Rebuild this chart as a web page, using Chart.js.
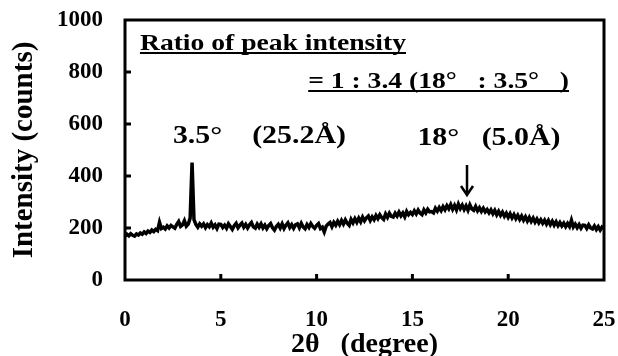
<!DOCTYPE html>
<html>
<head>
<meta charset="utf-8">
<script src="https://cdn.jsdelivr.net/npm/chart.js@4/dist/chart.umd.min.js"></script>
<style>
html,body{margin:0;padding:0;background:#fff;}
#wrap{width:618px;height:356px;}
</style>
</head>
<body>
<div id="wrap"><canvas id="c" width="618" height="356"></canvas></div>
<script>
// 2θ sampling grid (degree)
const twoThetaStart = 0;
const twoThetaStep = 0.1;
// Intensity (counts), one value per 0.1° from 0 to 25°
const intensity = [
  168,176,170,178,172,169,177,173,181,176,
  185,179,188,183,192,186,195,190,222,198,
  203,196,208,200,210,204,199,214,225,206,
  212,228,207,215,238,452,232,214,203,216,
  207,216,201,213,205,219,203,212,198,215,
  214,202,211,199,216,206,195,209,218,201,
  211,219,203,214,200,212,221,204,199,215,
  203,216,200,211,197,209,217,201,192,206,
  214,200,216,198,211,220,202,213,199,212,
  216,201,218,204,197,213,202,217,206,199,
  210,217,198,203,185,207,215,221,205,222,
  211,226,213,229,215,231,218,210,233,220,
  236,222,238,224,242,228,239,246,229,243,
  232,248,236,251,240,233,254,241,257,245,
  242,257,246,261,247,258,243,264,251,260,
  252,266,254,269,257,251,270,258,272,262,
  263,258,276,265,279,267,282,270,286,274,
  290,272,287,270,292,275,288,271,285,268,
  289,274,268,283,266,278,264,276,262,271,
  258,270,255,268,251,264,249,261,245,257,
  241,255,239,252,236,249,233,246,230,243,
  227,241,225,238,222,235,220,232,218,230,
  215,229,213,226,211,224,209,221,208,219,
  205,218,206,230,204,215,201,213,199,211,
  210,198,212,200,196,208,194,205,192,204,
  199
];
const xTicks = [0, 5, 10, 15, 20, 25];
const yTicks = [0, 200, 400, 600, 800, 1000];
const xTitle = '2θ   (degree)';
const yTitle = 'Intensity (counts)';
const ratioTitle = 'Ratio of peak intensity';
const ratioValue = '= 1 : 3.4 (18°   : 3.5°   )';
const peakLowLabel = '3.5°    (25.2Å)';
const peakHighLabel = '18°   (5.0Å)';
const arrowAt = 17.85;

const points = intensity.map((v, i) => ({x: twoThetaStart + i * twoThetaStep, y: v}));

const FONT = "'Liberation Serif', 'Times New Roman', serif";

// annotation placement in data units
const notes = [
  {text: ratioTitle, x: 0.78, y: 885, size: 24, underline: true},
  {text: ratioValue, x: 9.56, y: 738, size: 24, underline: true},
  {text: peakLowLabel, x: 2.5, y: 527, size: 26, underline: false},
  {text: peakHighLabel, x: 15.26, y: 519, size: 26, underline: false}
];
const arrow = {x: arrowAt, yTop: 442, yTip: 327};
const STRETCH = 1.15;

const framePlugin = {
  id: 'frame',
  afterDatasetsDraw(chart) {
    const {ctx, chartArea: a, scales} = chart;
    ctx.save();
    ctx.strokeStyle = '#000';
    ctx.lineWidth = 3;
    ctx.strokeRect(a.left, a.top, a.right - a.left, a.bottom - a.top);
    // inward ticks
    ctx.lineWidth = 3;
    ctx.beginPath();
    xTicks.forEach(t => {
      if (t === xTicks[0] || t === xTicks[xTicks.length - 1]) return;
      const px = scales.x.getPixelForValue(t);
      ctx.moveTo(px, a.bottom);
      ctx.lineTo(px, a.bottom - 6);
    });
    yTicks.forEach(t => {
      if (t === yTicks[0] || t === yTicks[yTicks.length - 1]) return;
      const py = scales.y.getPixelForValue(t);
      ctx.moveTo(a.left, py);
      ctx.lineTo(a.left + 6, py);
    });
    ctx.stroke();

    // annotations
    ctx.fillStyle = '#000';
    ctx.textBaseline = 'alphabetic';
    ctx.textAlign = 'left';
    notes.forEach(n => {
      const px = scales.x.getPixelForValue(n.x);
      const py = scales.y.getPixelForValue(n.y);
      ctx.font = 'bold ' + n.size + 'px ' + FONT;
      const w = ctx.measureText(n.text).width * STRETCH;
      ctx.save();
      ctx.translate(px, py);
      ctx.scale(STRETCH, 1);
      ctx.fillText(n.text, 0, 0);
      ctx.restore();
      if (n.underline) {
        ctx.lineWidth = 2;
        ctx.beginPath();
        ctx.moveTo(px, py + 3);
        ctx.lineTo(px + w, py + 3);
        ctx.stroke();
      }
    });
    // arrow
    const ax = scales.x.getPixelForValue(arrow.x);
    const ay1 = scales.y.getPixelForValue(arrow.yTop);
    const ay2 = scales.y.getPixelForValue(arrow.yTip);
    ctx.lineWidth = 2.5;
    ctx.beginPath();
    ctx.moveTo(ax, ay1);
    ctx.lineTo(ax, ay2);
    ctx.moveTo(ax - 6, ay2 - 9);
    ctx.lineTo(ax, ay2);
    ctx.lineTo(ax + 6, ay2 - 9);
    ctx.stroke();
    ctx.restore();
  }
};

new Chart(document.getElementById('c'), {
  type: 'scatter',
  data: {
    datasets: [{
      data: points,
      showLine: true,
      borderColor: '#000',
      borderWidth: 3.5,
      pointRadius: 0,
      tension: 0,
      fill: false
    }]
  },
  options: {
    responsive: false,
    animation: false,
    events: [],
    layout: {padding: {left: 0, right: 14, top: 20, bottom: 0}},
    plugins: {legend: {display: false}, tooltip: {enabled: false}},
    scales: {
      x: {
        type: 'linear',
        min: 0, max: 25,
        afterBuildTicks(scale) { scale.ticks = xTicks.map(v => ({value: v})); },
        afterFit(scale) { scale.height = 76; scale.paddingLeft = 0; scale.paddingRight = 0; },
        grid: {display: false, drawTicks: false},
        border: {display: false},
        ticks: {
          color: '#000', padding: 26,
          font: {family: FONT, size: 23, weight: 'bold'},
          callback: v => String(v)
        },
        title: {
          display: true, text: xTitle, color: '#000',
          font: {family: FONT, size: 28, weight: 'bold'},
          padding: {top: 0, bottom: -6}
        }
      },
      y: {
        min: 0, max: 1000,
        afterBuildTicks(scale) { scale.ticks = yTicks.map(v => ({value: v})); },
        afterFit(scale) { scale.width = 125; scale.paddingTop = 0; scale.paddingBottom = 0; },
        grid: {display: false, drawTicks: false},
        border: {display: false},
        ticks: {
          color: '#000', padding: 22,
          font: {family: FONT, size: 23, weight: 'bold'},
          callback: v => String(v)
        },
        title: {
          display: true, text: yTitle, color: '#000',
          font: {family: FONT, size: 29, weight: 'bold'},
          padding: {top: 7, bottom: 0}
        }
      }
    }
  },
  plugins: [framePlugin]
});
</script>
</body>
</html>
